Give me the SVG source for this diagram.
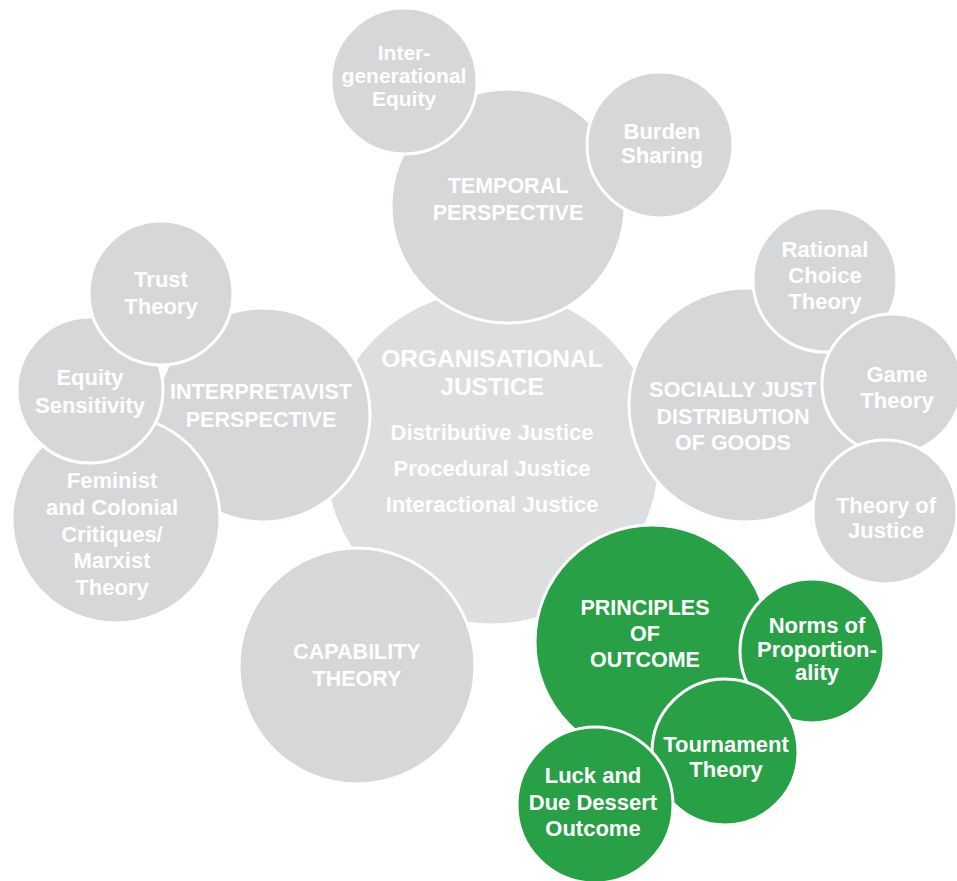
<svg xmlns="http://www.w3.org/2000/svg" width="957" height="881" viewBox="0 0 957 881">
<style>
.c{fill:#d6d7d9;stroke:#fff;stroke-width:3}
.cc{fill:#dddee0;stroke:#fff;stroke-width:3}
.g{fill:#28a046;stroke:#fff;stroke-width:3}
text{font-family:"Liberation Sans",Arial,sans-serif;font-weight:700;fill:#fff;text-anchor:middle}
.t{font-size:21.5px}
.u{font-size:22px}
.s{font-size:22px}
.x{font-size:21px}
.o{font-size:24.5px}
</style>
<rect width="957" height="881" fill="#fff"/>
<g id="connectors"/>
<g id="organisational">
<circle class="cc" cx="492" cy="457" r="168"/>
<text class="o" x="492" y="367">ORGANISATIONAL</text>
<text class="o" x="492" y="395">JUSTICE</text>
<text class="u" x="492" y="440">Distributive Justice</text>
<text class="u" x="492" y="476">Procedural Justice</text>
<text class="u" x="492" y="512">Interactional Justice</text>
</g>
<g id="temporal">
<circle class="c" cx="508" cy="206" r="117"/>
<text class="t" x="508" y="193">TEMPORAL</text>
<text class="t" x="508" y="220">PERSPECTIVE</text>
</g>
<g id="intergenerational">
<circle class="c" cx="404" cy="81" r="73"/>
<text class="x" x="404" y="60">Inter-</text>
<text class="x" x="404" y="83">generational</text>
<text class="x" x="404" y="106">Equity</text>
</g>
<g id="burden">
<circle class="c" cx="660" cy="145" r="73"/>
<text class="s" x="662" y="139">Burden</text>
<text class="s" x="662" y="163">Sharing</text>
</g>
<g id="interpretavist">
<circle class="c" cx="263" cy="415" r="107"/>
<text class="t" x="261" y="399">INTERPRETAVIST</text>
<text class="t" x="261" y="427">PERSPECTIVE</text>
</g>
<g id="feminist">
<circle class="c" cx="116" cy="519" r="104"/>
<text class="s" x="112" y="488">Feminist</text>
<text class="s" x="112" y="515">and Colonial</text>
<text class="s" x="112" y="542">Critiques/</text>
<text class="s" x="112" y="568">Marxist</text>
<text class="s" x="112" y="595">Theory</text>
</g>
<g id="equity">
<circle class="c" cx="90" cy="390" r="73"/>
<text class="s" x="90" y="385">Equity</text>
<text class="s" x="90" y="413">Sensitivity</text>
</g>
<g id="trust">
<circle class="c" cx="161" cy="293" r="72"/>
<text class="s" x="161" y="287">Trust</text>
<text class="s" x="161" y="314">Theory</text>
</g>
<g id="socially">
<circle class="c" cx="746" cy="405" r="117"/>
<text class="t" x="733" y="397">SOCIALLY JUST</text>
<text class="t" x="733" y="424">DISTRIBUTION</text>
<text class="t" x="733" y="450">OF GOODS</text>
</g>
<g id="rational">
<circle class="c" cx="825" cy="280" r="72"/>
<text class="s" x="825" y="257">Rational</text>
<text class="s" x="825" y="283">Choice</text>
<text class="s" x="825" y="309">Theory</text>
</g>
<g id="game">
<circle class="c" cx="892" cy="384" r="70"/>
<text class="s" x="897" y="382">Game</text>
<text class="s" x="897" y="408">Theory</text>
</g>
<g id="justice">
<circle class="c" cx="885" cy="512" r="72"/>
<text class="s" x="886" y="513">Theory of</text>
<text class="s" x="886" y="538">Justice</text>
</g>
<g id="capability">
<circle class="c" cx="357" cy="666" r="118"/>
<text class="t" x="357" y="659">CAPABILITY</text>
<text class="t" x="357" y="686">THEORY</text>
</g>
<g id="principles">
<circle class="g" cx="652" cy="642" r="117"/>
<text class="t" x="645" y="615">PRINCIPLES</text>
<text class="t" x="645" y="641">OF</text>
<text class="t" x="645" y="667">OUTCOME</text>
</g>
<g id="norms">
<circle class="g" cx="812" cy="651" r="72"/>
<text class="s" x="817" y="633">Norms of</text>
<text class="s" x="817" y="657">Proportion-</text>
<text class="s" x="817" y="680">ality</text>
</g>
<g id="tournament">
<circle class="g" cx="725" cy="752" r="73"/>
<text class="s" x="726" y="752">Tournament</text>
<text class="s" x="726" y="777">Theory</text>
</g>
<g id="luck">
<circle class="g" cx="595" cy="805" r="78"/>
<text class="s" x="593" y="783">Luck and</text>
<text class="s" x="593" y="810">Due Dessert</text>
<text class="s" x="593" y="836">Outcome</text>
</g>
</svg>
